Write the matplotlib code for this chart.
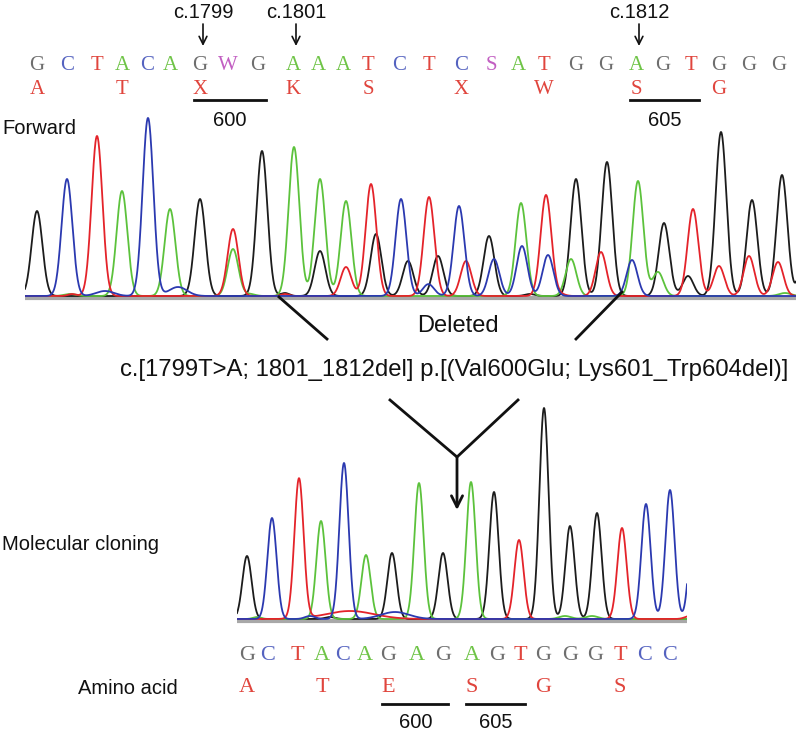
import numpy as np
import matplotlib
matplotlib.use('Agg')
import matplotlib.pyplot as plt

# ── Sequence data ────────────────────────────────────────────
seq_top = "GCTACAGWGAAATCTCSATGGAGTGGG"
pos_top = [37, 67, 97, 122, 147, 170, 200, 228, 258, 293, 318, 343, 368, 399,
           429, 461, 491, 518, 544, 576, 606, 636, 663, 691, 719, 749, 779]
aa_top = "ATXKSXWSG"

seq_bot = "GCTACAGAGAGTGGGTCC"
pos_bot = [247, 268, 297, 322, 343, 365, 388, 417, 443, 472, 497, 520, 543,
           570, 595, 620, 645, 670]
aa_bot = "ATESGS"

# codon index (first base) and residue number for the underlines
codons_top = [(6, "600"), (21, "605")]
codons_bot = [(6, "600"), (9, "605")]

# ── Trace peaks (scan position, signal height) ───────────────
top_black = [(37, 85), (200, 97), (262, 145), (320, 45), (376, 62), (408, 35),
             (438, 40), (489, 60), (576, 117), (607, 134), (664, 73), (688, 20),
             (721, 164), (752, 96), (782, 121), (808, 120)]
top_blue = [(67, 117), (148, 178), (401, 97), (428, 9), (459, 90), (494, 37),
            (522, 50), (548, 41), (632, 36)]
top_red = [(97, 160), (233, 67), (346, 29), (371, 112), (429, 99), (466, 35),
           (546, 101), (601, 44), (693, 87), (719, 30), (749, 40), (778, 34)]
top_green = [(122, 105), (170, 87), (233, 47), (294, 149), (320, 117), (346, 95),
             (521, 93), (571, 37), (638, 115), (658, 24)]
# low background humps (position, height, width)
top_bumps = {'blue': [(105, 5, 9), (178, 9, 9), (430, 3, 6)],
             'red': [(72, 2, 4), (285, 2, 4), (560, 2, 5)],
             'black': [(285, 3, 4), (530, 2, 5)],
             'green': [(70, 2, 6), (785, 3, 6), (250, 2, 5)]}

bot_black = [(247, 63), (392, 66), (443, 66), (494, 127), (544, 211), (570, 93),
             (597, 106)]
bot_blue = [(272, 101), (344, 156), (646, 115), (670, 129), (694, 110)]
bot_red = [(299, 140), (519, 79), (622, 91)]
bot_green = [(321, 98), (366, 64), (419, 136), (471, 137)]
bot_bumps = {'blue': [(395, 7, 14), (310, 3, 5)],
             'red': [(350, 8, 24), (690, 3, 5)],
             'black': [(330, 2, 5)],
             'green': [(565, 3, 6), (592, 3, 6), (257, 2, 4)]}

base_col = {'G': '#6e6e6e', 'C': '#5563c0', 'T': '#e0453d', 'A': '#6fc447',
            'W': '#c25fc2', 'S': '#c25fc2'}
trace_col = {'black': '#1c1c1c', 'blue': '#2b39b0', 'red': '#e4232a',
             'green': '#5cc23c'}
aa_col = '#e0453d'

W, H = 796, 732
fig = plt.figure(figsize=(W / 100, H / 100), dpi=100)


def px_axes(x0, x1, y0, y1):
    # axes placed by pixel box (top-left origin)
    return fig.add_axes([x0 / W, 1 - y1 / H, (x1 - x0) / W, (y1 - y0) / H])


def draw_trace(ax, x, channels, sigma, bumps):
    for name, peaks in channels:
        y = np.zeros_like(x)
        for p, h in peaks:
            y += h * np.exp(-(x - p) ** 2 / (2 * sigma ** 2))
        for p, h, s in bumps.get(name, []):
            y += h * np.exp(-(x - p) ** 2 / (2 * s ** 2))
        ax.plot(x, y + 1.0, color=trace_col[name], lw=1.3, solid_joinstyle='round')


# ── Top chromatogram ─────────────────────────────────────────
ax1 = px_axes(25, 796, 110, 302)
ax1.set_xlim(25, 796)
ax1.set_ylim(-5, 187)
ax1.axhline(-0.5, color='#a8a8a8', lw=3, zorder=0)
x1 = np.linspace(25, 796, 3000)
draw_trace(ax1, x1, [('black', top_black), ('green', top_green),
                     ('red', top_red), ('blue', top_blue)], 5.4, top_bumps)
ax1.axis('off')

# ── Bottom chromatogram ──────────────────────────────────────
ax2 = px_axes(237, 687, 400, 625)
ax2.set_xlim(237, 687)
ax2.set_ylim(-5, 220)
ax2.axhline(-1, color='#a8a8a8', lw=3, zorder=0)
x2 = np.linspace(237, 687, 2000)
draw_trace(ax2, x2, [('black', bot_black), ('green', bot_green),
                     ('red', bot_red), ('blue', bot_blue)], 4.6, bot_bumps)
ax2.axis('off')

# ── Overlay for text and annotations ─────────────────────────
ov = fig.add_axes([0, 0, 1, 1], zorder=5)
ov.set_xlim(0, W)
ov.set_ylim(H, 0)
ov.axis('off')

seq_font = dict(family='Liberation Serif', ha='center', va='center')
sans = dict(family='Liberation Sans', color='#111111')

for ch, x in zip(seq_top, pos_top):
    ov.text(x, 65, ch, color=base_col[ch], fontsize=15, **seq_font)
for i, aa in enumerate(aa_top):
    ov.text(pos_top[3 * i], 89, aa, color=aa_col, fontsize=15, **seq_font)
for i, lab in codons_top:
    ov.plot([pos_top[i] - 6, pos_top[i + 2] + 8], [100, 100], color='#111111', lw=2)
    ov.text((pos_top[i] + pos_top[i + 2]) / 2 + 1, 120, lab, fontsize=14.5,
            ha='center', va='center', **sans)

for ch, x in zip(seq_bot, pos_bot):
    ov.text(x, 655, ch, color=base_col[ch], fontsize=16, **seq_font)
for i, aa in enumerate(aa_bot):
    ov.text(pos_bot[3 * i], 688, aa, color=aa_col, fontsize=16, **seq_font)
for i, lab in codons_bot:
    ov.plot([pos_bot[i] - 6, pos_bot[i + 2] + 5], [704, 704], color='#111111', lw=2)
    ov.text((pos_bot[i] + pos_bot[i + 2]) / 2, 723, lab, fontsize=14.5,
            ha='center', va='center', **sans)

# position markers above the top sequence
for idx, lab in [(6, "c.1799"), (9, "c.1801"), (21, "c.1812")]:
    x = pos_top[idx] + 3
    ov.text(x, 12, lab, fontsize=14.5, ha='center', va='center', **sans)
    ov.annotate('', xy=(x, 46), xytext=(x, 24),
                arrowprops=dict(arrowstyle='->', color='#111111', lw=1.2,
                                mutation_scale=14, shrinkA=0, shrinkB=0))

ov.text(2, 128, "Forward", fontsize=14.5, ha='left', va='center', **sans)
ov.text(2, 545, "Molecular cloning", fontsize=14.5, ha='left', va='center', **sans)
ov.text(78, 689, "Amino acid", fontsize=14.5, ha='left', va='center', **sans)

# deletion wedge
ov.plot([279, 327], [297, 339], color='#111111', lw=2)
ov.plot([622, 576], [292, 339], color='#111111', lw=2)
ov.text(458, 326, "Deleted", fontsize=17, ha='center', va='center', **sans)
ov.text(454, 370, "c.[1799T>A; 1801_1812del] p.[(Val600Glu; Lys601_Trp604del)]",
        fontsize=17.2, ha='center', va='center', **sans)

ov.plot([390, 457, 518], [400, 457, 400], color='#111111', lw=2)
ov.annotate('', xy=(457, 510), xytext=(457, 457),
            arrowprops=dict(arrowstyle='->', color='#111111', lw=2,
                            mutation_scale=20, shrinkA=0, shrinkB=0))

fig.savefig('out.png', dpi=100)
